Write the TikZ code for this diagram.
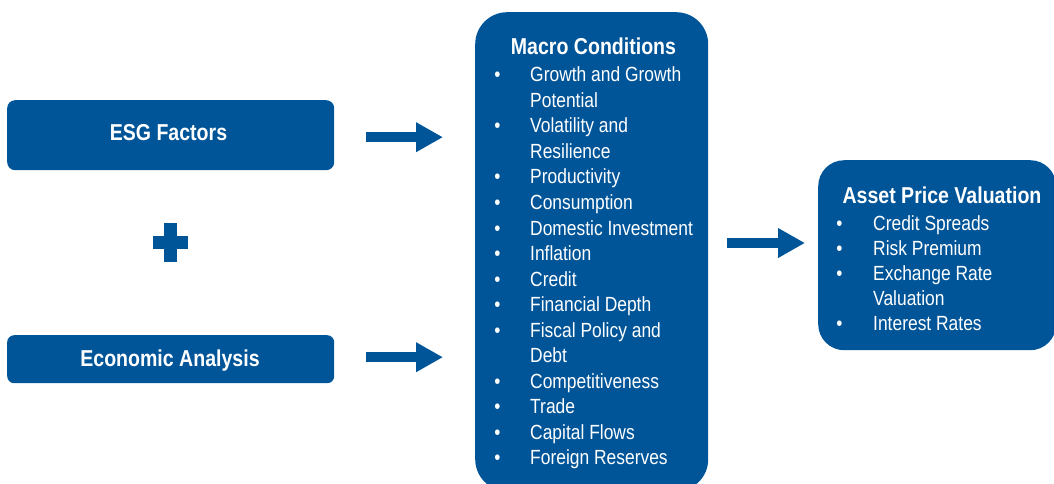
\documentclass[tikz,border=0pt]{standalone}
\usepackage{fontspec}
\setmainfont{Liberation Sans}[FakeStretch=0.85]
\usetikzlibrary{arrows.meta}
\definecolor{esgblue}{RGB}{0,85,153}
\tikzset{
  box/.style={fill=esgblue, draw=none, inner sep=0pt, rounded corners=#1, anchor=north west},
  titletext/.style={text=white, inner sep=0pt, font=\fontsize{23}{26}\selectfont\bfseries},
  bodytext/.style={text=white, inner sep=0pt, font=\fontsize{20.5}{24}\selectfont},
  blockarrow/.style={draw=esgblue, line width=10pt, -{Triangle[length=27pt,width=28pt]}},
}
\begin{document}
\begin{tikzpicture}[x=1pt,y=-1pt]
\useasboundingbox (0,0) rectangle (1054,483);
% boxes
\node[box=8pt, minimum width=327pt, minimum height=70pt] (esg) at (7,100) {};
\node[box=7pt, minimum width=327pt, minimum height=48pt] (econ) at (7,335) {};
\node[box=32pt, minimum width=233pt, minimum height=479pt] (macro) at (475,12) {};
\node[box=26pt, minimum width=238pt, minimum height=190pt] (asset) at (818,160) {};
% plus sign
\fill[esgblue] (153,236) rectangle (188,249);
\fill[esgblue] (164,223) rectangle (177,262);
% box titles
\node[titletext, anchor=base] (esgt) at (168.5,140.7) {ESG Factors};
\node[titletext, anchor=base] (econt) at (170,366.7) {Economic Analysis};
\node[titletext, anchor=base] (macrot) at (593.5,54) {Macro Conditions};
\node[titletext, anchor=base] (assett) at (942,203) {Asset Price Valuation};
% macro list
\foreach \i/\b/\t in {0/1/Growth and Growth, 1/0/Potential, 2/1/Volatility and, 3/0/Resilience,
  4/1/Productivity, 5/1/Consumption, 6/1/Domestic Investment, 7/1/Inflation, 8/1/Credit,
  9/1/Financial Depth, 10/1/Fiscal Policy and, 11/0/Debt, 12/1/Competitiveness, 13/1/Trade,
  14/1/Capital Flows, 15/1/Foreign Reserves}{
  \node[bodytext, anchor=base west] (m\i) at (530,81.7+25.55*\i) {\t};
  \ifnum\b=1 \node[bodytext, anchor=base] (mb\i) at (497.5,81.7+25.55*\i) {\textbullet}; \fi
}
% asset list
\foreach \i/\b/\t in {0/1/Credit Spreads, 1/1/Risk Premium, 2/1/Exchange Rate, 3/0/Valuation, 4/1/Interest Rates}{
  \node[bodytext, anchor=base west] (a\i) at (873,230+25*\i) {\t};
  \ifnum\b=1 \node[bodytext, anchor=base] (ab\i) at (839.5,230+25*\i) {\textbullet}; \fi
}
% arrows
\coordinate (a3) at (0,243);
\draw[blockarrow, shorten <=32pt, shorten >=32pt] ([yshift=-2pt]esg.east) -- ([yshift=-2pt]esg.east -| macro.west);
\draw[blockarrow, shorten <=32pt, shorten >=32pt] ([yshift=2pt]econ.east) -- ([yshift=2pt]econ.east -| macro.west);
\draw[blockarrow, shorten <=19pt, shorten >=13pt] (macro.east |- a3) -- (asset.west |- a3);
\end{tikzpicture}
\end{document}
